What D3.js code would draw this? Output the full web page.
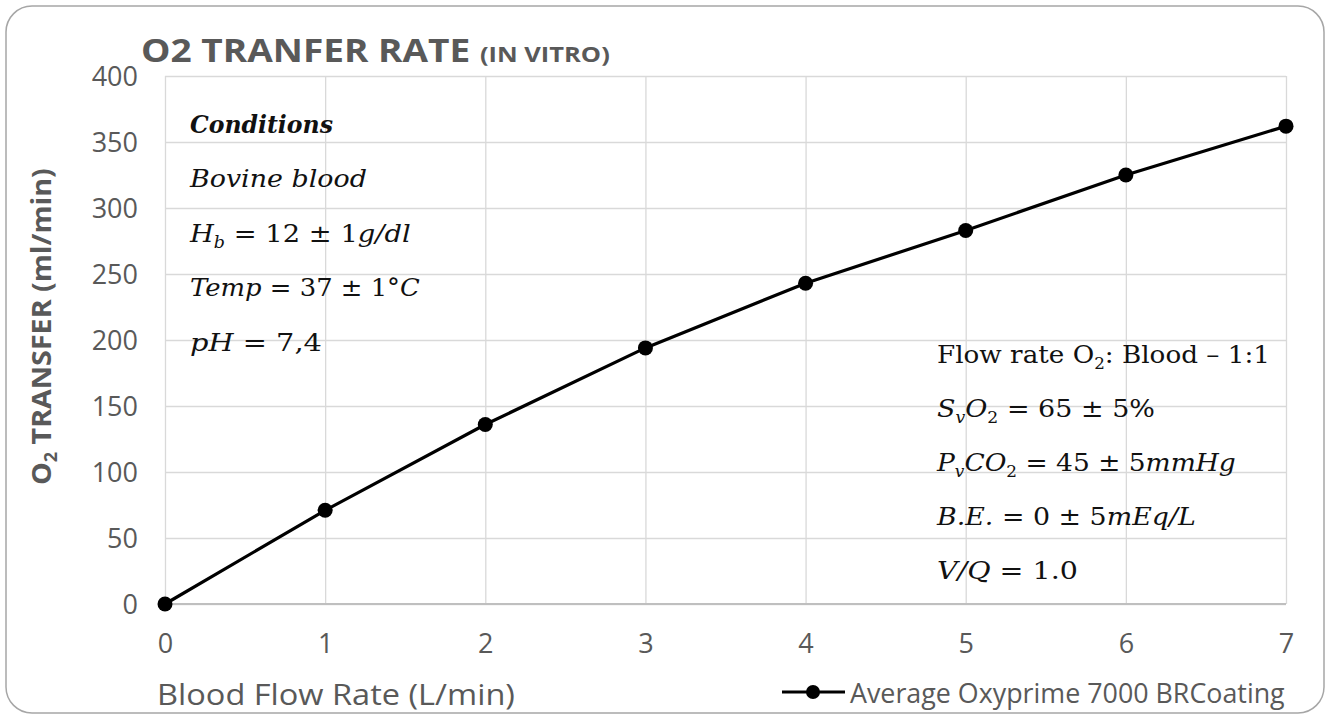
<!DOCTYPE html>
<html>
<head>
<meta charset="utf-8">
<script src="https://cdn.jsdelivr.net/npm/d3@7"></script>
<style>
  body { margin: 0; background: #fff; }
  svg text { fill: #595959; }
</style>
</head>
<body>
<div id="chart"></div>
<script>
// data
var flowRates = [0, 1, 2, 3, 4, 5, 6, 7];
var o2Transfer = [0, 71, 136, 194, 243, 283, 325, 362];
var yTicks = [0, 50, 100, 150, 200, 250, 300, 350, 400];
var seriesName = "Average Oxyprime 7000 BRCoating";

var svgWidth = 1330;
var svgHeight = 719;

var margin = { top: 76, right: 44, bottom: 115, left: 165 };
var width = svgWidth - margin.left - margin.right;
var height = svgHeight - margin.top - margin.bottom;

var svg = d3.select("#chart")
  .append("svg")
  .attr("width", svgWidth)
  .attr("height", svgHeight);

// rounded frame
svg.append("rect")
  .attr("x", 6).attr("y", 6)
  .attr("width", svgWidth - 12).attr("height", svgHeight - 12)
  .attr("rx", 26).attr("ry", 26)
  .attr("fill", "#fff")
  .attr("stroke", "#a6a6a6")
  .attr("stroke-width", 1.5);

// squeeze / stretch a text to a given width (keeps left anchor)
function fit(sel, w) {
  var bb = sel.node().getBBox();
  var sx = w / bb.width;
  var x0 = +sel.attr("x");
  var y0 = +sel.attr("y");
  sel.attr("transform", `translate(${x0},${y0}) scale(${sx},1) translate(${-x0},${-y0})`);
  return sel;
}

var chartGroup = svg.append("g")
  .attr("transform", `translate(${margin.left}, ${margin.top})`);

var xScale = d3.scaleLinear().domain([0, 7]).range([0, width]);
var yScale = d3.scaleLinear().domain([0, 400]).range([height, 0]);

// gridlines
var gridY = chartGroup.append("g")
  .call(d3.axisLeft(yScale).tickValues(yTicks).tickSize(-width).tickFormat(""));
gridY.selectAll("line").attr("stroke", "#d9d9d9").attr("stroke-width", 1.3);
gridY.select(".domain").remove();

var gridX = chartGroup.append("g")
  .call(d3.axisTop(xScale).tickValues(flowRates).tickSize(-height).tickFormat(""));
gridX.selectAll("line").attr("stroke", "#d9d9d9").attr("stroke-width", 1.3);
gridX.select(".domain").remove();

// bottom axis line
chartGroup.append("line")
  .attr("x1", 0).attr("x2", width)
  .attr("y1", height).attr("y2", height)
  .attr("stroke", "#bfbfbf").attr("stroke-width", 2);

// tick labels
var leftAxis = chartGroup.append("g")
  .call(d3.axisLeft(yScale).tickValues(yTicks).tickSize(0).tickPadding(27));
leftAxis.select(".domain").remove();
leftAxis.selectAll("text")
  .attr("font-family", "Open Sans, sans-serif")
  .attr("font-size", 27)
  .attr("dy", "0.36em")
  .style("fill", "#595959");

var bottomAxis = chartGroup.append("g")
  .attr("transform", `translate(0, ${height})`)
  .call(d3.axisBottom(xScale).tickValues(flowRates).tickFormat(d3.format("d")).tickSize(0).tickPadding(30));
bottomAxis.select(".domain").remove();
bottomAxis.selectAll("text")
  .attr("font-family", "Open Sans, sans-serif")
  .attr("font-size", 27)
  .style("fill", "#595959");

// series
var line = d3.line()
  .x((d, i) => xScale(flowRates[i]))
  .y(d => yScale(d));

chartGroup.append("path")
  .datum(o2Transfer)
  .attr("fill", "none")
  .attr("stroke", "#000")
  .attr("stroke-width", 3.2)
  .attr("d", line);

chartGroup.selectAll(".dot")
  .data(o2Transfer)
  .enter()
  .append("circle")
  .attr("class", "dot")
  .attr("cx", (d, i) => xScale(flowRates[i]))
  .attr("cy", d => yScale(d))
  .attr("r", 7.5)
  .attr("fill", "#000");

// title
var title = svg.append("text")
  .attr("x", 141).attr("y", 62)
  .attr("font-family", "Open Sans, sans-serif")
  .attr("font-weight", "bold")
  .attr("font-size", 32)
  .style("fill", "#595959");
title.append("tspan").text("O2 TRANFER RATE ");
title.append("tspan").attr("font-size", 22).text("(IN VITRO)");
fit(title, 469);

// axis titles
var xTitle = svg.append("text")
  .attr("x", 157).attr("y", 705)
  .attr("font-family", "Open Sans, sans-serif")
  .attr("font-size", 30)
  .style("fill", "#595959")
  .text("Blood Flow Rate (L/min)");
fit(xTitle, 358);

var yTitleG = svg.append("g")
  .attr("transform", "translate(51, 485) rotate(-90)");
var yTitle = yTitleG.append("text")
  .attr("x", 0).attr("y", 0)
  .attr("font-family", "Open Sans, sans-serif")
  .attr("font-weight", "bold")
  .attr("font-size", 27)
  .style("fill", "#595959");
yTitle.append("tspan").text("O");
yTitle.append("tspan").attr("font-size", 17).attr("dy", 6).text("2");
yTitle.append("tspan").attr("dy", -6).text(" TRANSFER (ml/min)");
fit(yTitle, 317);

// legend
var legend = svg.append("g");
legend.append("line")
  .attr("x1", 782).attr("x2", 845)
  .attr("y1", 692).attr("y2", 692)
  .attr("stroke", "#000").attr("stroke-width", 3.2);
legend.append("circle")
  .attr("cx", 813).attr("cy", 692).attr("r", 7).attr("fill", "#000");
var legText = legend.append("text")
  .attr("x", 850).attr("y", 703)
  .attr("font-family", "Open Sans, sans-serif")
  .attr("font-size", 28)
  .style("fill", "#595959")
  .text(seriesName);
fit(legText, 435);

// annotation text (math style)
var mathFont = "DejaVu Serif, serif";
function mathLine(x, y, parts, w, opts) {
  opts = opts || {};
  var t = svg.append("text")
    .attr("x", x).attr("y", y)
    .attr("font-family", mathFont)
    .attr("font-size", 25)
    .attr("font-style", opts.upright ? "normal" : "italic")
    .attr("font-weight", opts.bold ? "bold" : "normal")
    .style("fill", "#111");
  parts.forEach(function(p) {
    var s = t.append("tspan").text(p.t);
    if (p.sub) s.attr("font-size", 16).attr("dy", 6);
    if (p.up) s.attr("dy", -6);
    if (p.n) s.attr("font-style", "normal");
  });
  fit(t, w);
  return t;
}

mathLine(190, 133, [{ t: "Conditions" }], 143, { bold: true });
mathLine(190, 187, [{ t: "Bovine blood" }], 178);
mathLine(190, 242, [{ t: "H" }, { t: "b", sub: true }, { t: " = ", up: true, n: true }, { t: "12 ± 1", n: true }, { t: "g/dl" }], 222);
mathLine(190, 296, [{ t: "Temp" }, { t: " = 37 ± 1°", n: true }, { t: "C" }], 230);
mathLine(190, 351, [{ t: "pH" }, { t: "  =  7,4", n: true }], 132);

mathLine(937, 363, [{ t: "Flow rate O" }, { t: "2", sub: true }, { t: ": Blood –  1:1", up: true }], 333, { upright: true });
mathLine(937, 417, [{ t: "S" }, { t: "v", sub: true }, { t: "O", up: true }, { t: "2", sub: true, n: true }, { t: " = 65 ± 5%", up: true, n: true }], 218);
mathLine(937, 471, [{ t: "P" }, { t: "v", sub: true }, { t: "CO", up: true }, { t: "2", sub: true, n: true }, { t: " = 45 ± 5", up: true, n: true }, { t: "mmHg" }], 300);
mathLine(937, 525, [{ t: "B.E." }, { t: " = 0 ± 5", n: true }, { t: "mEq/L" }], 260);
mathLine(937, 579, [{ t: "V/Q" }, { t: "  = 1.0", n: true }], 141);
</script>
</body>
</html>
